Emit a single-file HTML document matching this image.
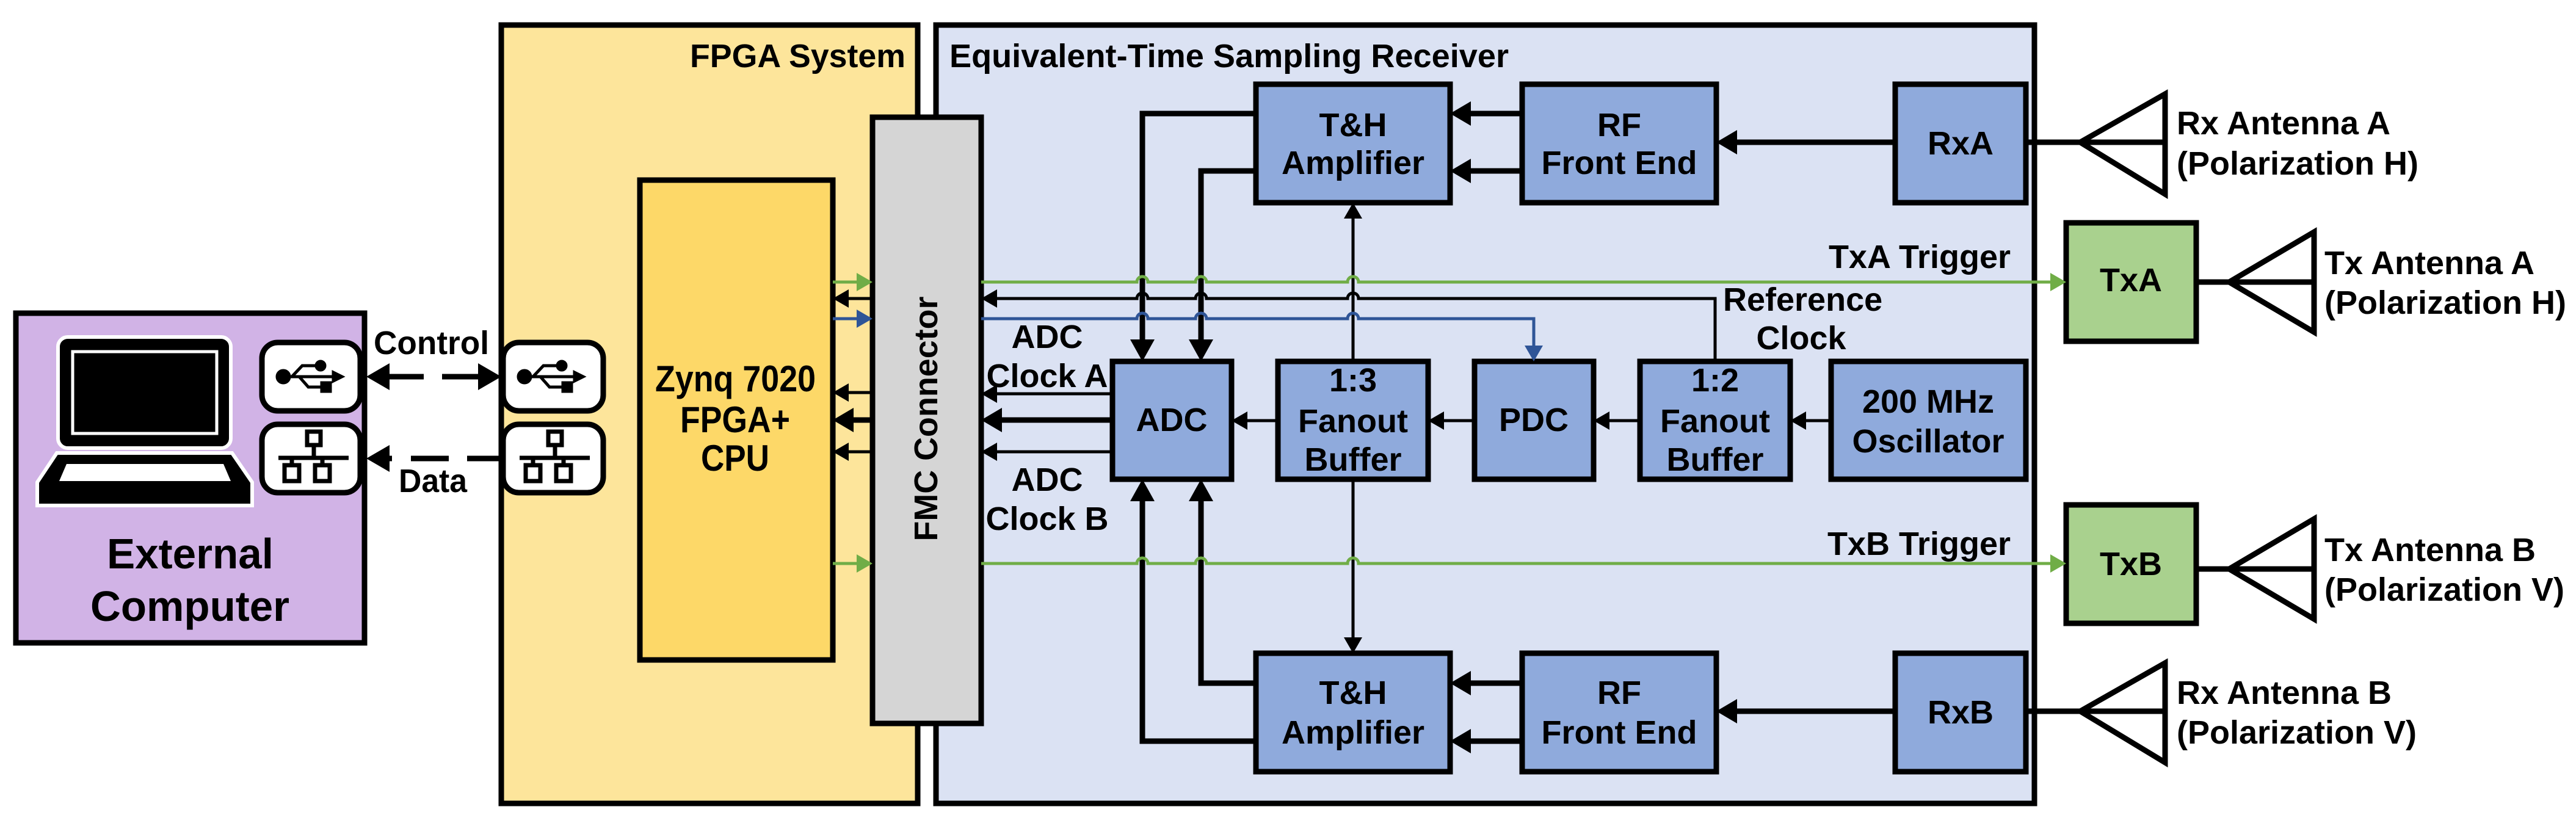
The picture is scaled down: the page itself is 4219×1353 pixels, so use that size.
<!DOCTYPE html>
<html><head><meta charset="utf-8"><style>html,body{margin:0;padding:0;background:#fff}svg{display:block}</style></head>
<body>
<svg width="4219" height="1353" viewBox="0 0 4219 1353" xmlns="http://www.w3.org/2000/svg" font-family="Liberation Sans, Arial, sans-serif" font-weight="bold">
<rect x="26" y="513" width="571" height="540" fill="#d1b3e6" stroke="#000" stroke-width="9"/>
<rect x="821" y="41" width="682" height="1275" fill="#fde59b" stroke="#000" stroke-width="9"/>
<rect x="1533" y="41" width="1799" height="1275" fill="#dbe2f3" stroke="#000" stroke-width="9"/>
<rect x="1048" y="295" width="316" height="786" fill="#fdd868" stroke="#000" stroke-width="9"/>
<rect x="1429" y="192" width="178" height="993" fill="#d5d5d5" stroke="#000" stroke-width="9"/>

<g fill="#8faadc" stroke="#000" stroke-width="9">
<rect x="2057" y="138" width="318" height="194"/>
<rect x="2493" y="138" width="318" height="194"/>
<rect x="3104" y="138" width="214" height="194"/>
<rect x="2057" y="1070" width="318" height="194"/>
<rect x="2493" y="1070" width="318" height="194"/>
<rect x="3104" y="1070" width="214" height="194"/>
<rect x="1822" y="592" width="195" height="193"/>
<rect x="2093" y="592" width="246" height="193"/>
<rect x="2415" y="592" width="195" height="193"/>
<rect x="2686" y="592" width="246" height="193"/>
<rect x="2999" y="592" width="319" height="193"/>
</g>
<g fill="#a9d18e" stroke="#000" stroke-width="9">
<rect x="3384" y="365" width="213" height="194"/>
<rect x="3384" y="827" width="213" height="194"/>
</g>

<g stroke="#000" stroke-width="9" fill="none">
<line x1="3104" y1="233" x2="2840" y2="233"/>
<line x1="3104" y1="1165" x2="2840" y2="1165"/>
<line x1="2493" y1="186" x2="2405" y2="186"/>
<line x1="2493" y1="280" x2="2405" y2="280"/>
<line x1="2493" y1="1119" x2="2405" y2="1119"/>
<line x1="2493" y1="1214" x2="2405" y2="1214"/>
<polyline points="2057,186 1871,186 1871,560"/>
<polyline points="2057,280 1967,280 1967,560"/>
<polyline points="2057,1119 1967,1119 1967,817"/>
<polyline points="2057,1214 1871,1214 1871,817"/>
<line x1="1822" y1="688" x2="1638" y2="688"/>
<line x1="1429" y1="688" x2="1395" y2="688"/>
</g>
<g fill="#000">
<polygon points="2811,233 2845,213 2845,253"/>
<polygon points="2811,1165 2845,1145 2845,1185"/>
<polygon points="2375,186 2409,166 2409,206"/>
<polygon points="2375,280 2409,260 2409,300"/>
<polygon points="2375,1119 2409,1099 2409,1139"/>
<polygon points="2375,1214 2409,1194 2409,1234"/>
<polygon points="1871,592 1851,556 1891,556"/>
<polygon points="1967,592 1947,556 1987,556"/>
<polygon points="1871,785 1851,821 1891,821"/>
<polygon points="1967,785 1947,821 1987,821"/>
<polygon points="1607,688 1641,668 1641,708"/>
<polygon points="1364,688 1398,668 1398,708"/>
</g>

<g stroke="#000" stroke-width="5" fill="none">
<line x1="1822" y1="645" x2="1630" y2="645"/>
<line x1="1822" y1="740" x2="1630" y2="740"/>
<line x1="2216" y1="592" x2="2216" y2="355"/>
<line x1="2216" y1="785" x2="2216" y2="1047"/>
<line x1="2686" y1="689" x2="2633" y2="689"/>
<line x1="2415" y1="689" x2="2362" y2="689"/>
<line x1="2093" y1="689" x2="2040" y2="689"/>
<line x1="2999" y1="689" x2="2955" y2="689"/>
<path d="M2809,592 L2809,489 L2225,489 A9,9 0 0 0 2207,489 L1976,489 A9,9 0 0 0 1958,489 L1880,489 A9,9 0 0 0 1862,489 L1630,489"/>
<line x1="1429" y1="489" x2="1387" y2="489"/>
<line x1="1429" y1="643" x2="1387" y2="643"/>
<line x1="1429" y1="740" x2="1387" y2="740"/>
</g>
<g fill="#000">
<polygon points="1607,645 1633,630 1633,660"/>
<polygon points="1607,740 1633,725 1633,755"/>
<polygon points="2216,332 2201,358 2231,358"/>
<polygon points="2216,1070 2201,1044 2231,1044"/>
<polygon points="2610,689 2636,674 2636,704"/>
<polygon points="2339,689 2365,674 2365,704"/>
<polygon points="2017,689 2043,674 2043,704"/>
<polygon points="2932,689 2958,674 2958,704"/>
<polygon points="1607,489 1633,474 1633,504"/>
<polygon points="1364,489 1390,474 1390,504"/>
<polygon points="1364,643 1390,628 1390,658"/>
<polygon points="1364,740 1390,725 1390,755"/>
</g>

<g stroke="#70ad47" stroke-width="5" fill="none">
<path d="M1607,462 L1862,462 A9,9 0 0 1 1880,462 L1958,462 A9,9 0 0 1 1976,462 L2207,462 A9,9 0 0 1 2225,462 L3358,462"/>
<path d="M1607,923 L1862,923 A9,9 0 0 1 1880,923 L1958,923 A9,9 0 0 1 1976,923 L2207,923 A9,9 0 0 1 2225,923 L3358,923"/>
<line x1="1364" y1="462" x2="1405" y2="462"/>
<line x1="1364" y1="923" x2="1405" y2="923"/>
</g>
<g fill="#70ad47">
<polygon points="3384,462 3358,447 3358,477"/>
<polygon points="3384,923 3358,908 3358,938"/>
<polygon points="1429,462 1403,447 1403,477"/>
<polygon points="1429,923 1403,908 1403,938"/>
</g>
<g stroke="#2f5597" stroke-width="5" fill="none">
<path d="M1607,522 L1862,522 A9,9 0 0 1 1880,522 L1958,522 A9,9 0 0 1 1976,522 L2207,522 A9,9 0 0 1 2225,522 L2512,522 L2512,568"/>
<line x1="1364" y1="522" x2="1405" y2="522"/>
</g>
<g fill="#2f5597">
<polygon points="2512,592 2497,566 2527,566"/>
<polygon points="1429,522 1403,507 1403,537"/>
</g>

<g stroke="#000" stroke-width="9" fill="none">
<line x1="3318" y1="233" x2="3546" y2="233"/>
<polygon points="3407,233 3546,154 3546,318"/>
<line x1="3597" y1="462" x2="3790" y2="462"/>
<polygon points="3651,462 3790,380 3790,544"/>
<line x1="3597" y1="932" x2="3790" y2="932"/>
<polygon points="3651,932 3790,850 3790,1014"/>
<line x1="3318" y1="1165" x2="3546" y2="1165"/>
<polygon points="3407,1165 3546,1086 3546,1249"/>
</g>

<rect x="95" y="552" width="283" height="182" rx="16" fill="#000" stroke="#fff" stroke-width="6"/>
<rect x="119" y="576" width="236" height="134" fill="#000" stroke="#fff" stroke-width="5"/>
<polygon points="61,828 413,828 413,790 380,742 93,742 61,790" fill="#000" stroke="#fff" stroke-width="6"/>
<polygon points="97,788 378,788 366,760 109,760" fill="#fff"/>

<g fill="#fff" stroke="#000" stroke-width="9">
<rect x="429" y="561" width="161" height="112" rx="26"/>
<rect x="429" y="695" width="161" height="112" rx="26"/>
<rect x="824" y="561" width="164" height="112" rx="26"/>
<rect x="824" y="695" width="164" height="112" rx="26"/>
</g>
<g id="usb" stroke="#000" fill="none" stroke-width="5">
<circle cx="464" cy="617" r="10" fill="#000"/>
<line x1="464" y1="617" x2="550" y2="617"/>
<polyline points="478,617 495,599 520,599"/>
<polyline points="490,617 505,634 530,634"/>
<circle cx="525" cy="599" r="7" fill="#000"/>
<rect x="527" y="627" width="14" height="14" fill="#000"/>
<polygon points="560,617 546,610 546,624" fill="#000"/>
</g>
<use href="#usb" x="395" y="0"/>
<g id="eth" stroke="#000" fill="none" stroke-width="7">
<rect x="503" y="707" width="22" height="22"/>
<line x1="514" y1="729" x2="514" y2="748"/>
<line x1="456" y1="750" x2="571" y2="750"/>
<line x1="478" y1="750" x2="478" y2="762"/>
<line x1="528" y1="750" x2="528" y2="762"/>
<rect x="466" y="762" width="24" height="26"/>
<rect x="516" y="762" width="24" height="26"/>
</g>
<use href="#eth" x="395" y="0"/>

<g stroke="#000" stroke-width="9">
<line x1="634" y1="617" x2="694" y2="617"/>
<line x1="724" y1="617" x2="789" y2="617"/>
<line x1="634" y1="751" x2="642" y2="751"/>
<line x1="673" y1="751" x2="735" y2="751"/>
<line x1="765" y1="751" x2="822" y2="751"/>
</g>
<g fill="#000">
<polygon points="600,617 638,595 638,639"/>
<polygon points="821,617 783,595 783,639"/>
<polygon points="600,751 638,729 638,773"/>
</g>

<g fill="#000" font-size="54">
<text x="612" y="580" textLength="189" lengthAdjust="spacingAndGlyphs">Control</text>
<text x="653" y="806" textLength="112" lengthAdjust="spacingAndGlyphs">Data</text>
<text x="175" y="931" font-size="70" textLength="273" lengthAdjust="spacingAndGlyphs">External</text>
<text x="148" y="1017" font-size="70" textLength="326" lengthAdjust="spacingAndGlyphs">Computer</text>
<text x="1073" y="641" font-size="60" textLength="263" lengthAdjust="spacingAndGlyphs">Zynq 7020</text>
<text x="1114" y="708" font-size="60" textLength="180" lengthAdjust="spacingAndGlyphs">FPGA+</text>
<text x="1148" y="771" font-size="60" textLength="112" lengthAdjust="spacingAndGlyphs">CPU</text>
<text x="1130" y="110" textLength="353" lengthAdjust="spacingAndGlyphs">FPGA System</text>
<text x="1555" y="110" textLength="916" lengthAdjust="spacingAndGlyphs">Equivalent-Time Sampling Receiver</text>
<text transform="translate(1535,686) rotate(-90)" text-anchor="middle" textLength="401" lengthAdjust="spacingAndGlyphs">FMC Connector</text>
<g text-anchor="middle">
<text x="2216" y="223">T&amp;H</text><text x="2216" y="285">Amplifier</text>
<text x="2652" y="223">RF</text><text x="2652" y="285">Front End</text>
<text x="3211" y="253">RxA</text>
<text x="2216" y="1153">T&amp;H</text><text x="2216" y="1218">Amplifier</text>
<text x="2652" y="1153">RF</text><text x="2652" y="1218">Front End</text>
<text x="3211" y="1185">RxB</text>
<text x="1919" y="706">ADC</text>
<text x="2216" y="641">1:3</text><text x="2216" y="708">Fanout</text><text x="2216" y="771">Buffer</text>
<text x="2512" y="706">PDC</text>
<text x="2809" y="641">1:2</text><text x="2809" y="708">Fanout</text><text x="2809" y="771">Buffer</text>
<text x="3158" y="676">200 MHz</text><text x="3158" y="741">Oscillator</text>
<text x="3490" y="477">TxA</text>
<text x="3490" y="942">TxB</text>
<text x="1715" y="570">ADC</text><text x="1715" y="634">Clock A</text>
<text x="1715" y="804">ADC</text><text x="1715" y="868">Clock B</text>
<text x="2950" y="572">Clock</text>
</g>
<text x="2822" y="509">Reference</text>
<text x="3293" y="439" text-anchor="end">TxA Trigger</text>
<text x="3293" y="909" text-anchor="end">TxB Trigger</text>
<text x="3565" y="220">Rx Antenna A</text><text x="3565" y="286">(Polarization H)</text>
<text x="3807" y="449">Tx Antenna A</text><text x="3807" y="514">(Polarization H)</text>
<text x="3807" y="919">Tx Antenna B</text><text x="3807" y="984">(Polarization V)</text>
<text x="3565" y="1153">Rx Antenna B</text><text x="3565" y="1218">(Polarization V)</text>
</g>
</svg>
</body></html>
